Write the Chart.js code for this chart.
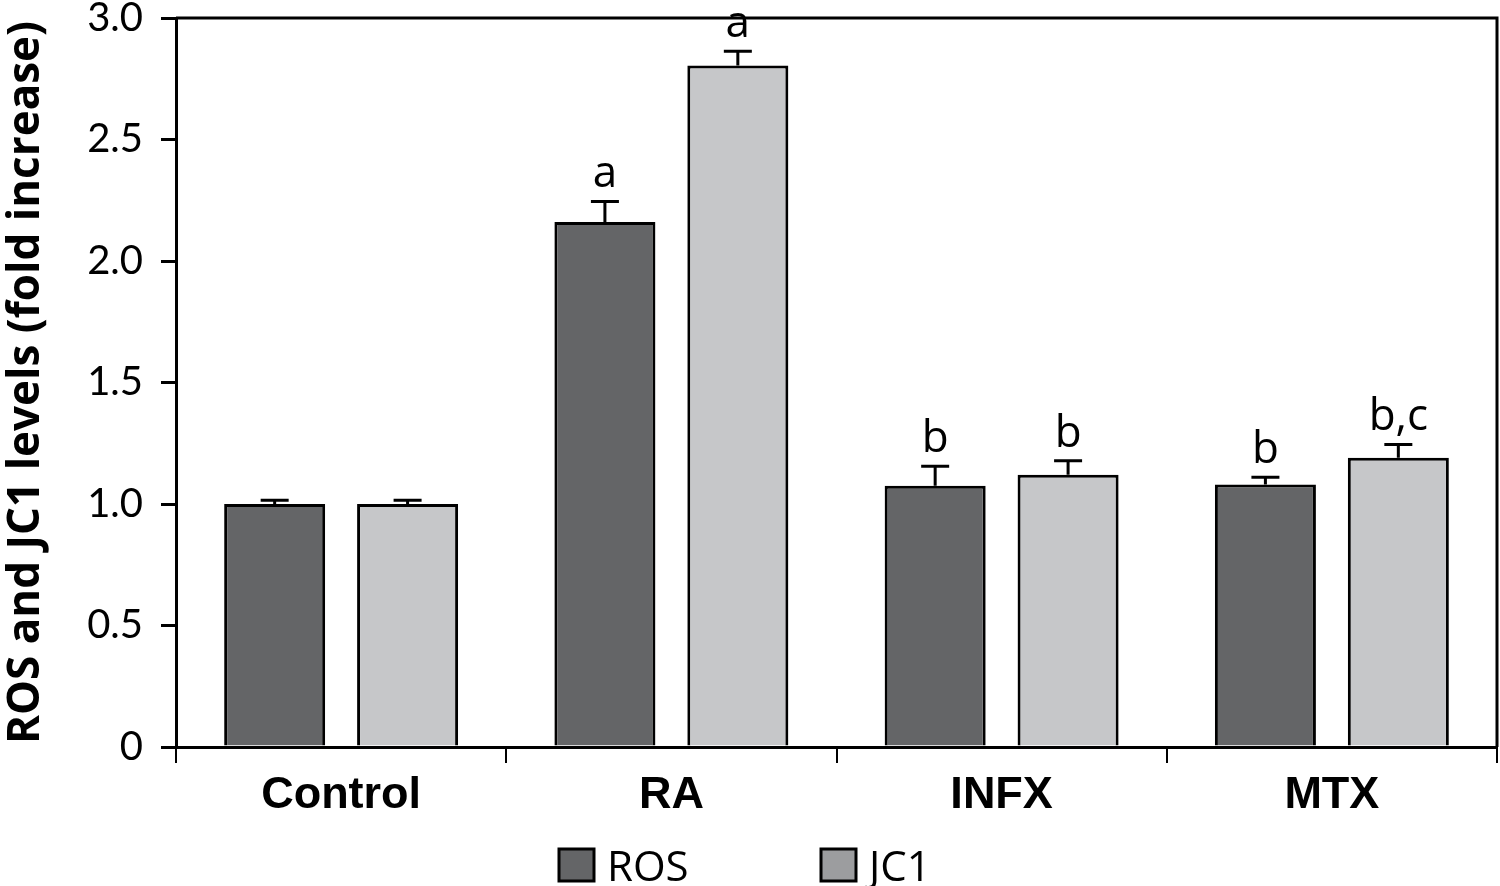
<!DOCTYPE html>
<html>
<head>
<meta charset="utf-8">
<script src="https://cdn.jsdelivr.net/npm/chart.js@4.4.1/dist/chart.umd.min.js"></script>
<style>
html,body{margin:0;padding:0;background:#fff;}
#wrap{width:1500px;height:886px;position:relative;}
</style>
</head>
<body>
<div id="wrap"><canvas id="c" width="1500" height="886"></canvas></div>
<script>
const categories = ["Control", "RA", "INFX", "MTX"];
const rosValues = [1.0, 2.16, 1.075, 1.08];
const rosErrors = [0.015, 0.085, 0.08, 0.03];
const rosLetters = ["", "a", "b", "b"];
const jc1Values = [1.0, 2.805, 1.12, 1.19];
const jc1Errors = [0.015, 0.058, 0.058, 0.055];
const jc1Letters = ["", "a", "b", "b,c"];
const yTicks = [0, 0.5, 1.0, 1.5, 2.0, 2.5, 3.0];
const seriesNames = ["ROS", "JC1"];

const ROS_COLOR = "#646567";
const JC1_COLOR = "#c6c7c9";
const JC1_LEGEND = "#9c9d9f";

const errorPlugin = {
  id: "errorBarsLetters",
  afterDatasetsDraw(chart) {
    const ctx = chart.ctx;
    const y = chart.scales.y;
    const errs = [rosErrors, jc1Errors];
    const letters = [rosLetters, jc1Letters];
    ctx.save();
    chart.data.datasets.forEach((ds, di) => {
      const meta = chart.getDatasetMeta(di);
      meta.data.forEach((bar, i) => {
        const v = ds.data[i];
        const top = y.getPixelForValue(v);
        const capY = y.getPixelForValue(v + errs[di][i]);
        ctx.strokeStyle = "#000";
        ctx.lineWidth = 3;
        ctx.beginPath();
        ctx.moveTo(bar.x, top);
        ctx.lineTo(bar.x, capY);
        ctx.moveTo(bar.x - 14, capY);
        ctx.lineTo(bar.x + 14, capY);
        ctx.stroke();
        const t = letters[di][i];
        if (t) {
          ctx.fillStyle = "#000";
          ctx.font = "44px 'Open Sans'";
          ctx.textAlign = "center";
          ctx.textBaseline = "alphabetic";
          ctx.fillText(t, bar.x, capY - 14);
        }
      });
    });
    ctx.restore();
  }
};

const framePlugin = {
  id: "frame",
  afterDraw(chart) {
    const a = chart.chartArea;
    const ctx = chart.ctx;
    ctx.save();
    ctx.strokeStyle = "#000";
    ctx.lineWidth = 3;
    ctx.beginPath();
    ctx.moveTo(a.left, a.top);
    ctx.lineTo(a.right, a.top);
    ctx.lineTo(a.right, a.bottom);
    ctx.stroke();
    // legend
    const items = [
      {label: seriesNames[0], color: ROS_COLOR, x: 559},
      {label: seriesNames[1], color: JC1_LEGEND, x: 821}
    ];
    items.forEach(it => {
      ctx.fillStyle = it.color;
      ctx.fillRect(it.x, 849, 35, 32);
      ctx.lineWidth = 3;
      ctx.strokeStyle = "#000";
      ctx.strokeRect(it.x, 849, 35, 32);
      ctx.fillStyle = "#000";
      ctx.font = "42px 'Open Sans'";
      ctx.textAlign = "left";
      ctx.textBaseline = "alphabetic";
      ctx.fillText(it.label, it.x + 48, 881);
    });
    ctx.restore();
  }
};

new Chart(document.getElementById("c"), {
  type: "bar",
  data: {
    labels: categories,
    datasets: [
      {label: seriesNames[0], data: rosValues, backgroundColor: ROS_COLOR, borderColor: "#000", borderWidth: 3,
       categoryPercentage: 0.805, barPercentage: 0.76},
      {label: seriesNames[1], data: jc1Values, backgroundColor: JC1_COLOR, borderColor: "#000", borderWidth: 3,
       categoryPercentage: 0.805, barPercentage: 0.76}
    ]
  },
  options: {
    responsive: false,
    animation: false,
    devicePixelRatio: 1,
    layout: {padding: {top: 0, right: 3, left: 0, bottom: 0}},
    plugins: {legend: {display: false}, tooltip: {enabled: false}},
    scales: {
      x: {
        grid: {offset: true, drawOnChartArea: false, color: "#000", lineWidth: 2, tickLength: 16, tickWidth: 2},
        border: {display: true, color: "#000", width: 3},
        ticks: {color: "#000", font: {family: "'Liberation Sans'", weight: "bold", size: 45}, padding: 6},
        afterFit(s) { s.height = 139; }
      },
      y: {
        min: 0, max: 3,
        afterBuildTicks(s) { s.ticks = yTicks.map(v => ({value: v})); },
        grid: {drawOnChartArea: false, color: "#000", lineWidth: 3, tickLength: 15},
        border: {display: true, color: "#000", width: 3},
        ticks: {color: "#000", font: {family: "Lato", size: 40}, padding: 18,
          callback: v => v === 0 ? "0" : Number(v).toFixed(1)},
        title: {display: true, text: "ROS and JC1 levels (fold increase)", color: "#000",
          font: {family: "'Open Sans'", weight: "bold", size: 44}, padding: {top: 0, bottom: 0}},
        afterFit(s) { s.width = 176; s.paddingTop = 18; s.paddingBottom = 0; }
      }
    }
  },
  plugins: [errorPlugin, framePlugin]
});
</script>
</body>
</html>
